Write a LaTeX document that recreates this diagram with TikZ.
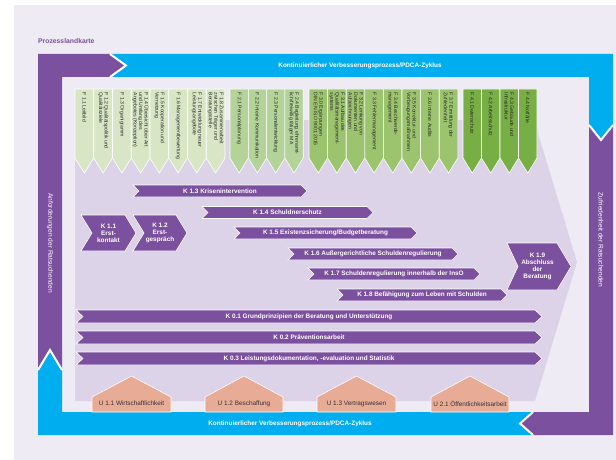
\documentclass[tikz,border=0pt]{standalone}
\usepackage{fontspec}
\setmainfont{Liberation Sans}
\definecolor{pdcablue}{HTML}{00AEEF}
\definecolor{kpurple}{HTML}{7B509E}
\definecolor{bglila}{HTML}{EEEBF5}
\definecolor{arrowlila}{HTML}{DCD3E8}
\definecolor{ulachs}{HTML}{E8AC96}
\definecolor{gA}{HTML}{D8E6C5}
\definecolor{gB}{HTML}{B4D399}
\definecolor{gC}{HTML}{9CC46E}
\definecolor{gD}{HTML}{78AF44}

\tikzset{
 karrow/.style={fill=kpurple,draw=white,line width=.6pt},
 klabel/.style={text=white,font=\fontsize{6.4}{7}\selectfont\bfseries,align=center,inner sep=0pt},
 ftext/.style={rotate=-90,anchor=west,align=left,inner sep=0pt,font=\fontsize{5.1}{5.5}\selectfont,text=black!85},
 uhouse/.style={fill=ulachs,draw=white,line width=.6pt},
 ulabel/.style={font=\fontsize{6.4}{7}\selectfont,text=black!80,inner sep=0pt},
 bandlabel/.style={text=white,font=\fontsize{6.4}{7}\selectfont\bfseries,inner sep=0pt},
 sidelabel/.style={text=white,rotate=-90,font=\fontsize{6.6}{7}\selectfont,inner sep=0pt},
 gap/.style={white,line width=2pt}
}

% K arrow: name, x1, x2, y centre, height, notch depth, tip depth, text
\newcommand{\kpfeil}[8]{%
 \path[karrow] (#2,{#4-#5/2}) -- ({#3-#7},{#4-#5/2}) -- (#3,#4) -- ({#3-#7},{#4+#5/2}) -- (#2,{#4+#5/2}) -- ({#2+#6},#4) -- cycle;
 \node[klabel] (#1) at ({(#2+#3+#6-#7)/2},#4) {#8};
}
% U house: name, x1, x2, text
\newcommand{\uhaus}[4]{%
 \path[uhouse] (#2,412) -- (#2,397) -- ({(#2+#3)/2},376) -- (#3,397) -- (#3,412) -- cycle;
 \node[ulabel] (#1) at ({(#2+#3)/2},403.5) {#4};
}
% F group: group, x0, box width, colour, list of texts
\newcommand{\fgruppe}[5]{%
 \foreach \txt [count=\n from 0] in {#5} {
  \path[fill=#4,draw=white,line width=.6pt] ({#2+\n*#3},89) -- ++(#3,0) -- ++(0,69) -- ++({-#3/2},15) -- ++({-#3/2},-15) -- cycle;
  \node[ftext] (F#1-\n) at ({#2+(\n+.5)*#3},92.5) {\txt};
 }
}

\begin{document}
\begin{tikzpicture}[x=1pt,y=-1pt]
\useasboundingbox (0,0) rectangle (616,460);
\fill[bglila] (14,5) rectangle (616,460);
\node[anchor=west,inner sep=0pt,text=kpurple,font=\fontsize{6.8}{7}\selectfont\bfseries] (titel) at (38,41) {Prozesslandkarte};

% frame
\fill[kpurple] (38,54) -- (110,54) -- (126,65.5) -- (110,77) -- (62,77) -- (62,370) -- (50,350) -- (38,370) -- cycle;
\fill[pdcablue] (110,54) -- (613,54) -- (613,125) -- (601,140) -- (589,125) -- (589,77) -- (110,77) -- (126,65.5) -- cycle;
\fill[kpurple] (589,125) -- (601,140) -- (613,125) -- (613,435) -- (533,435) -- (520,423.5) -- (533,412) -- (589,412) -- cycle;
\fill[pdcablue] (533,412) -- (520,423.5) -- (533,435) -- (38,435) -- (38,370) -- (50,350) -- (62,370) -- (62,412) -- cycle;
\draw[gap] (110,54) -- (126,65.5) -- (110,77);
\draw[gap] (589,125) -- (601,140) -- (613,125);
\draw[gap] (533,412) -- (520,423.5) -- (533,435);
\draw[gap] (38,370) -- (50,350) -- (62,370);
\node[bandlabel] (kvp-oben) at (360,66) {Kontinuierlicher Verbesserungsprozess/PDCA-Zyklus};
\node[bandlabel] (kvp-unten) at (290,423.5) {Kontinuierlicher Verbesserungsprozess/PDCA-Zyklus};
\node[sidelabel] (anforderung) at (50,243) {Anforderungen der Ratsuchenden};
\node[sidelabel] (zufriedenheit) at (601,240) {Zufriedenheit der Ratsuchenden};

% big process arrow
\fill[arrowlila] (75,120) -- (534,120) -- (577,262) -- (535,401) -- (75,401) -- cycle;

% F boxes
\fgruppe{1}{75}{18.75}{gA}{{F 1.1 Leitbild},{F 1.2 Qualitätspolitik und\\Qualitätsziele},{F 1.3 Organigramm},{F 1.4 Übersicht über Art\\und Umfang des\\Angebotes (Konzeption)},{F 1.5 Kooperation und\\Vernetzung},{F 1.6 Managementbewertung},{F 1.7 Entwicklung neuer\\Leistungsangebote},{F 1.8 Zusammenarbeit\\zwischen Träger und\\Beratungsstelle}}
\fgruppe{2}{230}{18.3}{gB}{{F 2.1 Personalplanung},{F 2.2 Interne Kommunikation},{F 2.3 Personalentwicklung},{F 2.4 Begleitung ehrenamt-\\lich/freiwillig tätiger MA}}
\fgruppe{3}{309}{18.6}{gC}{{F 3.0 Ergänzungen\\DIN EN ISO 9001:2015},{F 3.1 Aufbau des\\Qualitätsmanagement-\\systems},{F 3.2 Lenkung von\\Dokumenten und\\Aufzeichnungen},{F 3.3 Fehlermanagement},{F 3.4 Beschwerde-\\management},{F 3.5 Korrektur- und\\Vorbeugungsmaßnahmen},{F 3.6 Interne Audits},{F 3.7 Ermittlung der\\Zufriedenheit}}
\fgruppe{4}{463}{18.5}{gD}{{F 4.1 Datenschutz},{F 4.2 Arbeitsschutz},{F 4.3 Gebäude und\\Infrastruktur},{F 4.4 Notfälle}}

% K arrows
\kpfeil{K11}{81}{136}{233}{36}{11}{11}{K 1.1\\Erst-\\kontakt}
\kpfeil{K12}{133}{187}{233}{36}{11}{11}{K 1.2\\Erst-\\gespräch}
\kpfeil{K13}{133}{307}{191}{12}{6}{6}{K 1.3 Krisenintervention}
\kpfeil{K14}{202}{373}{212.5}{12}{6}{6}{K 1.4 Schuldnerschutz}
\kpfeil{K15}{234}{417}{233}{12}{6}{6}{K 1.5 Existenzsicherung/Budgetberatung}
\kpfeil{K16}{288}{458}{254}{12}{6}{6}{K 1.6 Außergerichtliche Schuldenregulierung}
\kpfeil{K17}{308}{480}{274}{12}{6}{6}{K 1.7 Schuldenregulierung innerhalb der InsO}
\kpfeil{K18}{337}{507}{295}{12}{6}{6}{K 1.8 Befähigung zum Leben mit Schulden}
\kpfeil{K19}{507}{571}{266.5}{47}{11}{14}{K 1.9\\Abschluss\\der\\Beratung}
\kpfeil{K01}{76}{542}{316.5}{13}{7}{7}{K 0.1 Grundprinzipien der Beratung und Unterstützung}
\kpfeil{K02}{76}{542}{337.5}{13}{7}{7}{K 0.2 Präventionsarbeit}
\kpfeil{K03}{76}{542}{358.5}{13}{7}{7}{K 0.3 Leistungsdokumentation, -evaluation und Statistik}

% U houses
\uhaus{U11}{92}{171}{U 1.1 Wirtschaftlichkeit}
\uhaus{U12}{205}{283}{U 1.2 Beschaffung}
\uhaus{U13}{317}{396}{U 1.3 Vertragswesen}
\uhaus{U21}{431}{509}{U 2.1 Öffentlichkeitsarbeit}
\end{tikzpicture}
\end{document}
